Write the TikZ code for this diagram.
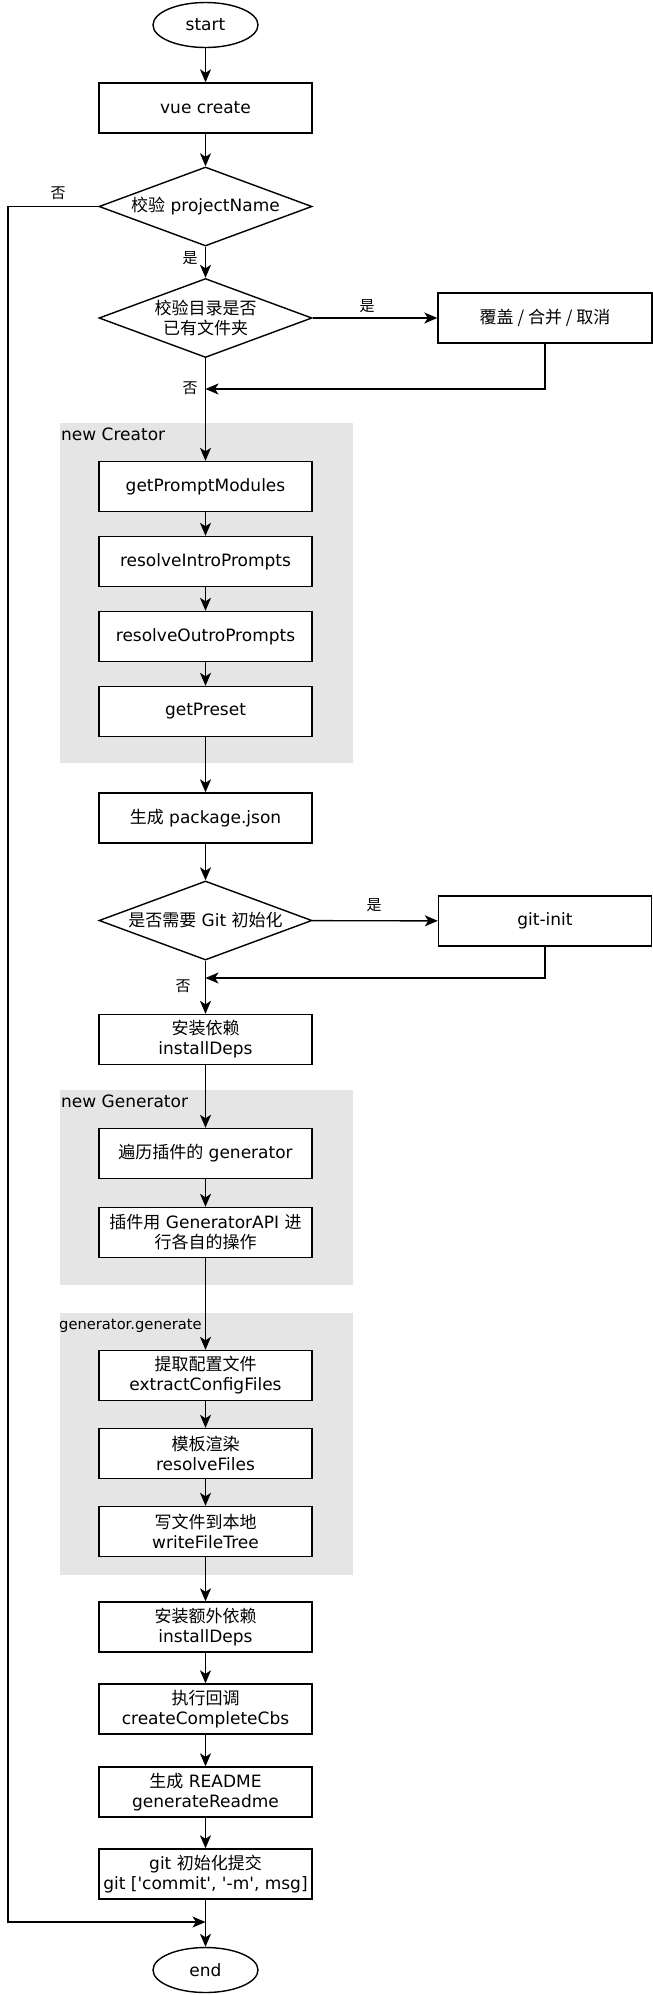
\documentclass[tikz,border=0pt]{standalone}
\usepackage{fontspec}
\setmainfont{DejaVu Sans}[Ligatures=TeXOff]
\newfontfamily\cjk{Noto Sans CJK SC}
\usetikzlibrary{shapes.geometric,arrows.meta}
\newcommand{\zh}[1]{{\cjk #1}}
\tikzset{
  box/.style={draw, line width=1.4pt, minimum width=213pt, minimum height=50pt, inner sep=0pt, align=center, fill=white, font=\fontsize{17}{20}\selectfont},
  term/.style={draw, ellipse, line width=1.4pt, minimum width=105pt, minimum height=45pt, inner sep=0pt, fill=white, font=\fontsize{17}{20}\selectfont},
  dec/.style={draw, diamond, aspect=2.7, line width=1.4pt, minimum width=213pt, minimum height=79pt, inner sep=0pt, align=center, fill=white, font=\fontsize{17}{20}\selectfont},
  grp/.style={fill=black!10},
  grplabel/.style={anchor=west, inner sep=0pt, font=\fontsize{17}{20}\selectfont},
  lbl/.style={inner sep=0pt, font=\fontsize{15}{18}\selectfont\cjk},
  arr/.style={line width=1.4pt, -{Stealth[length=13pt,width=11pt,inset=3.5pt]}},
  ln/.style={line width=1.4pt}
}
\begin{document}
\begin{tikzpicture}[x=1pt,y=-1pt]
\useasboundingbox (0,0) rectangle (653,1995);
% groups
\fill[grp] (60,423) rectangle (353,763);
\fill[grp] (60,1090) rectangle (353,1285);
\fill[grp] (60,1313) rectangle (353,1575);
\node[grplabel] (g1) at (61,434) {new Creator};
\node[grplabel] (g2) at (61,1101) {new Generator};
\node[grplabel, font=\fontsize{14.7}{17}\selectfont] (g3) at (59,1326) {generator.generate};
% nodes
\node[term] (start) at (205.5,25) {start};
\node[box] (vue) at (205.5,108) {vue create};
\node[dec] (d1) at (205.5,206.5) {\zh{校验} projectName};
\node[dec] (d2) at (205.5,318) {\zh{校验目录是否}\\\zh{已有文件夹}};
\node[box, minimum width=214pt] (over) at (545,318) {\zh{覆盖 / 合并 / 取消}};
\node[box] (gpm) at (205.5,486.5) {getPromptModules};
\node[box] (rip) at (205.5,561.5) {resolveIntroPrompts};
\node[box] (rop) at (205.5,636.5) {resolveOutroPrompts};
\node[box] (gp) at (205.5,711.5) {getPreset};
\node[box] (pkg) at (205.5,818) {\zh{生成} package.json};
\node[dec] (d3) at (205.5,920.5) {\zh{是否需要} Git \zh{初始化}};
\node[box] (gi) at (545,921) {git-init};
\node[box] (deps) at (205.5,1039.5) {\zh{安装依赖}\\installDeps};
\node[box] (trav) at (205.5,1153.5) {\zh{遍历插件的} generator};
\node[box] (api) at (205.5,1232.5) {\zh{插件用} GeneratorAPI \zh{进}\\\zh{行各自的操作}};
\node[box] (ecf) at (205.5,1375.5) {\zh{提取配置文件}\\extractConfigFiles};
\node[box] (rf) at (205.5,1453.5) {\zh{模板渲染}\\resolveFiles};
\node[box] (wft) at (205.5,1531.5) {\zh{写文件到本地}\\writeFileTree};
\node[box] (extra) at (205.5,1627) {\zh{安装额外依赖}\\installDeps};
\node[box] (cbs) at (205.5,1709) {\zh{执行回调}\\createCompleteCbs};
\node[box] (readme) at (205.5,1792) {\zh{生成} README\\generateReadme};
\node[box] (commit) at (205.5,1874) {git \zh{初始化提交}\\git ['commit', '-m', msg]};
\node[term] (end) at (205.5,1970) {end};
% coordinates
\coordinate (m1) at (205.5,389);
\coordinate (m2) at (205.5,978);
\coordinate (m3) at (205.5,1922);
\coordinate (c1) at (8,206.5);
\coordinate (c2) at (8,1922);
% labels
\node[lbl] (n1) at (58,193) {否};
\node[lbl] (y1) at (190,258) {是};
\node[lbl] (y2) at (367,306) {是};
\node[lbl] (n2) at (190,388) {否};
\node[lbl] (y3) at (374,905) {是};
\node[lbl] (n3) at (183,986) {否};
% connectors
\draw[arr] (start) -- (vue);
\draw[arr] (vue) -- (d1);
\draw[arr] (d1) -- (d2);
\draw[arr] (d2) -- (over);
\draw[arr] (over.south) |- (m1);
\draw[arr] (d2) -- (gpm);
\draw[arr] (gpm) -- (rip);
\draw[arr] (rip) -- (rop);
\draw[arr] (rop) -- (gp);
\draw[arr] (gp) -- (pkg);
\draw[arr] (pkg) -- (d3);
\draw[arr] (d3) -- (gi);
\draw[arr] (gi.south) |- (m2);
\draw[arr] (d3) -- (deps);
\draw[arr] (deps) -- (trav);
\draw[arr] (trav) -- (api);
\draw[arr] (api) -- (ecf);
\draw[arr] (ecf) -- (rf);
\draw[arr] (rf) -- (wft);
\draw[arr] (wft) -- (extra);
\draw[arr] (extra) -- (cbs);
\draw[arr] (cbs) -- (readme);
\draw[arr] (readme) -- (commit);
\draw[arr] (commit) -- (end);
\draw[arr] (d1.west) -- (c1) -- (c2) -- (m3);
\end{tikzpicture}
\end{document}
